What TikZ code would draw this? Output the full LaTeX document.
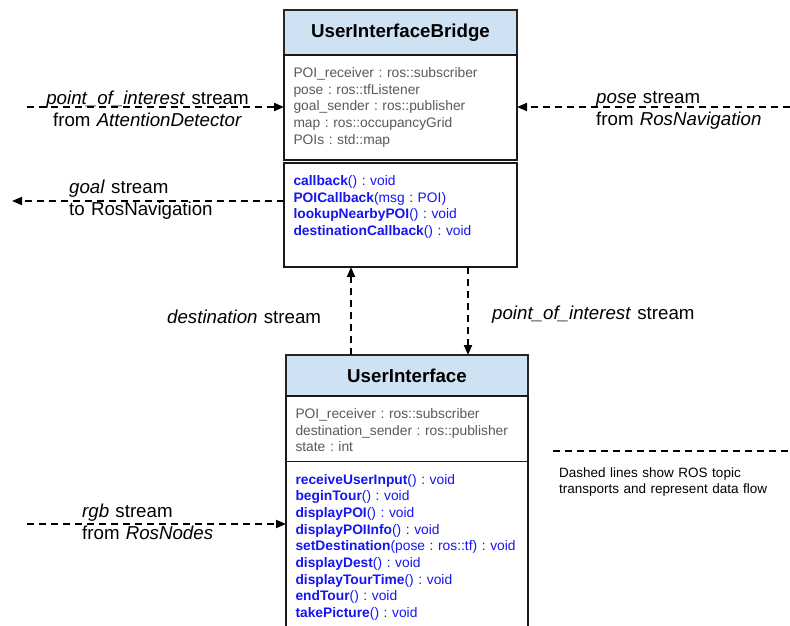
\documentclass[tikz,border=0pt]{standalone}
\usepackage{fontspec}
\setmainfont{Liberation Sans}
\frenchspacing
\usetikzlibrary{shapes, positioning, arrows.meta}
\definecolor{headblue}{HTML}{CFE2F3}
\definecolor{attrgray}{HTML}{595959}
\definecolor{methblue}{HTML}{1515F0}

\begin{document}
\begin{tikzpicture}[
          x=1pt, y=-1pt,
          classhead/.style={draw=black!85, line width=2pt, fill=headblue, outer sep=0pt,
            font=\fontsize{18.7}{22}\selectfont\bfseries},
          compart/.style={draw=black!90, line width=1.2pt, outer sep=0pt, anchor=north west,
            align=left, inner xsep=9.5pt, inner ysep=0pt, text height=22.5pt,
            font=\fontsize{13.8}{16.7}\selectfont},
          attrs/.style={compart, text=attrgray},
          meths/.style={compart, text=methblue},
          flow/.style={line width=1.8pt, dash pattern=on 7pt off 5pt},
          stream/.style={flow, -{Triangle[length=10pt, width=8pt]}},
          lbl/.style={font=\fontsize{18.7}{22}\selectfont, inner sep=0pt, text width=220pt,
            anchor=base west, align=left}
        ]
        \useasboundingbox (0,0) rectangle (790,626);

        \node[classhead, minimum width=233pt, minimum height=45pt] (bridge) at (400.5,32.5) {UserInterfaceBridge};
        \node[attrs, text width=214pt, text depth=82.5pt] (bridgeAttr) at (bridge.south west)
          {POI\_receiver : ros::subscriber\\pose : ros::tfListener\\goal\_sender : ros::publisher\\map : ros::occupancyGrid\\POIs : std::map};
        \node[meths, text width=214pt, text depth=81.5pt] (bridgeMeth) at ([yshift=-3pt]bridgeAttr.south west)
          {\textbf{callback}() : void\\\textbf{POICallback}(msg : POI)\\\textbf{lookupNearbyPOI}() : void\\\textbf{destinationCallback}() : void};

        \node[classhead, minimum width=242pt, minimum height=41pt] (ui) at (407,375.5) {UserInterface};
        \node[attrs, text width=223pt, text depth=43pt] (uiAttr) at (ui.south west)
          {POI\_receiver : ros::subscriber\\destination\_sender : ros::publisher\\state : int};
        \node[meths, text width=223pt, text depth=180pt] (uiMeth) at (uiAttr.south west)
          {\textbf{receiveUserInput}() : void\\\textbf{beginTour}() : void\\\textbf{displayPOI}() : void\\\textbf{displayPOIInfo}() : void\\\textbf{setDestination}(pose : ros::tf) : void\\\textbf{displayDest}() : void\\\textbf{displayTourTime}() : void\\\textbf{endTour}() : void\\\textbf{takePicture}() : void};

        \coordinate (poiSrc) at (27,107);
        \coordinate (poseSrc) at (790,107);
        \coordinate (goalDst) at (12,201);
        \coordinate (rgbSrc) at (27,524);
        \path (ui.north) ++(-56,0) coordinate (destFoot);
        \path (ui.north) ++(61,0) coordinate (poiFoot);
        \coordinate (legA) at (553,451);
        \coordinate (legB) at (790,451);

        \draw[stream] (poiSrc) -- (poiSrc -| bridgeAttr.west);
        \draw[stream] (poseSrc) -- (poseSrc -| bridgeAttr.east);
        \draw[stream] (goalDst -| bridgeMeth.west) -- (goalDst);
        \draw[stream] (destFoot) -- (destFoot |- bridgeMeth.south);
        \draw[stream] (poiFoot |- bridgeMeth.south) -- (poiFoot);
        \draw[stream] (rgbSrc) -- (rgbSrc -| uiMeth.west);
        \draw[flow] (legA) -- (legB);

        \node[lbl, text width=230pt, align=center, anchor=base] (poiInLbl) at (147.5,104)
          {\textit{point\_of\_interest} stream\\from \textit{AttentionDetector}};
        \node[lbl] (poseLbl) at (596,103) {\textit{pose} stream\\from \textit{RosNavigation}};
        \node[lbl] (goalLbl) at (69,193) {\textit{goal} stream\\to RosNavigation};
        \node[lbl] (destLbl) at (167,323) {\textit{destination} stream};
        \node[lbl] (poiDownLbl) at (492,319) {\textit{point\_of\_interest} stream};
        \node[lbl] (rgbLbl) at (82,517) {\textit{rgb} stream\\from \textit{RosNodes}};
        \node[lbl, font=\fontsize{13.5}{16}\selectfont] (legendLbl) at (559,477)
          {Dashed lines show ROS topic\\transports and represent data flow};
        \end{tikzpicture}
\end{document}
